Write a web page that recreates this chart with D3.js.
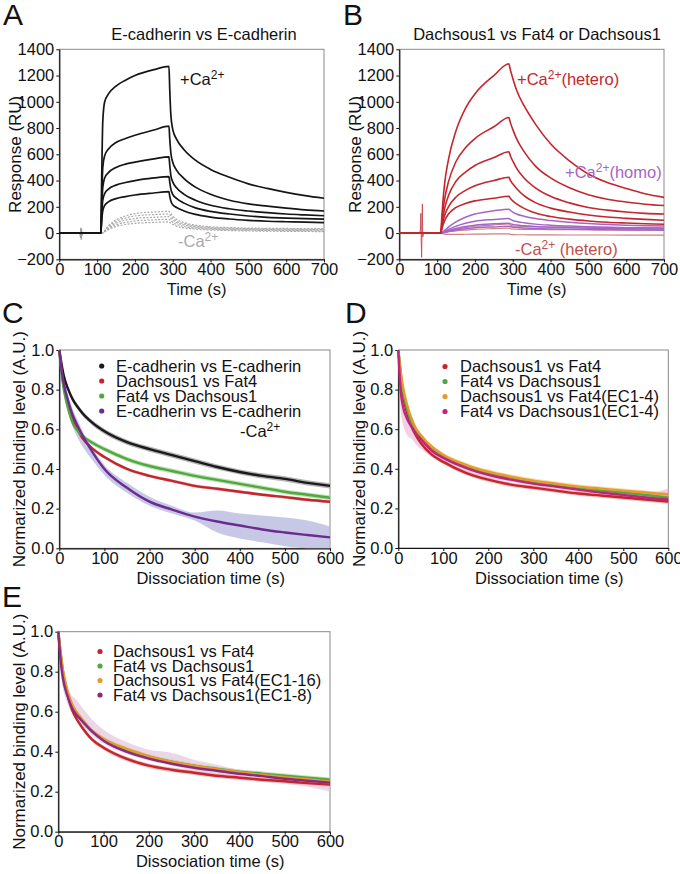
<!DOCTYPE html>
<html><head><meta charset="utf-8">
<script src="https://cdn.jsdelivr.net/npm/d3@7"></script>
<style>body{margin:0;background:#fff} text{font-family:"Liberation Sans",Arial,Helvetica,sans-serif}</style>
</head><body><svg id="c" width="680" height="874"></svg>
<script>
// ---------- DATA ----------
// SPR sensorgram time grid (s)
const sprTime = [0,110,112,115,120,130,150,175,200,250,290,292,295,300,310,330,360,400,450,500,550,600,650,700];
// Panel A: E-cadherin vs E-cadherin, +Ca2+ (RU)
const eCadPlusCa = [
  [0,0,400,850,1000,1060,1120,1165,1200,1245,1270,1100,900,790,715,635,555,485,425,375,340,310,285,265],
  [0,0,250,500,590,640,690,720,745,785,815,720,610,540,480,415,350,295,250,222,205,190,177,168],
  [0,0,180,350,420,460,500,525,540,565,580,520,440,390,345,295,250,212,185,168,155,145,138,132],
  [0,0,130,250,300,335,365,385,400,420,430,390,335,295,265,228,192,165,145,130,120,114,110,106],
  [0,0,90,170,210,238,262,278,290,305,315,282,245,215,195,168,142,122,107,97,90,86,83,80]
];
// Panel A: -Ca2+
const eCadMinusCa = [
  [0,0,0,3,20,55,100,130,148,160,165,160,148,130,105,80,60,48,42,38,36,35,34,33],
  [0,0,0,3,17,48,88,115,130,141,145,141,130,114,92,70,53,42,36,33,31,30,29,28],
  [0,0,0,2,14,40,75,98,111,120,125,121,112,98,80,61,46,36,31,28,26,25,24,23],
  [0,0,0,2,11,33,62,81,92,100,105,101,93,82,66,50,38,30,25,22,20,19,18,17],
  [0,0,0,1,9,26,50,65,74,81,85,82,75,66,53,40,30,23,19,16,14,13,12,11]
];
const spikeA = [[54,0],[56,-35],[57,40],[58,-50],[59,30],[60,-20],[62,0]];
// Panel B: Dachsous1 vs Fat4 (+Ca2+, hetero)
const dchsFatPlusCa = [
  [0,0,100,230,380,560,780,950,1060,1200,1290,1265,1230,1180,1090,970,830,680,550,450,385,340,300,272],
  [0,0,70,160,260,390,545,650,720,810,880,860,830,790,720,620,510,420,345,292,258,237,220,210],
  [0,0,50,115,190,285,395,465,515,575,620,605,580,550,495,420,345,280,230,195,175,160,150,145],
  [0,0,35,80,135,200,275,325,360,400,425,413,395,375,340,285,232,190,160,137,122,112,104,98],
  [0,0,25,55,95,145,195,225,245,265,280,272,260,245,222,188,152,126,106,92,82,76,71,67]
];
// Panel B: Dachsous1 vs Dachsous1 (+Ca2+, homo)
const dchsHomo = [
  [0,0,3,8,20,45,85,120,145,170,182,178,170,160,145,128,110,95,82,72,65,60,56,53],
  [0,0,2,5,12,28,52,75,90,103,110,107,102,96,88,78,68,60,53,48,44,41,39,37],
  [0,0,1,3,8,18,35,50,60,70,75,73,70,66,61,55,49,44,40,37,35,33,32,31],
  [0,0,1,2,5,12,23,33,40,47,52,50,48,45,42,38,34,31,29,27,25,24,23,22]
];
// Panel B: -Ca2+ (hetero)
const dchsFatMinusCa = [
  [0,0,2,5,10,18,30,42,52,62,70,66,60,55,52,50,48,46,45,44,43,42,41,40],
  [0,0,1,3,6,10,17,23,28,34,38,36,33,31,29,28,27,26,25,25,24,24,23,23],
  [0,0,-3,-5,-8,-10,-10,-9,-8,-7,-6,-8,-10,-12,-13,-13,-14,-14,-15,-15,-15,-16,-16,-16]
];
const spikeB = [[54,0],[56,30],[57,150],[58,-60],[59,-185],[60,20],[61,220],[62,-30],[64,0]];
const sprXTicks = [0,100,200,300,400,500,600,700];
const sprYTicks = [-200,0,200,400,600,800,1000,1200,1400];

// Dissociation time grid (s)
const dissTime = [0,5,10,20,30,40,50,75,100,150,200,250,300,350,400,450,500,550,600];
// Panel C
const cEcad   = [1,0.93,0.87,0.8,0.75,0.715,0.685,0.63,0.59,0.535,0.5,0.47,0.44,0.41,0.385,0.365,0.35,0.33,0.315];
const cEcadErr= [0,0.01,0.012,0.013,0.013,0.013,0.013,0.013,0.013,0.013,0.013,0.013,0.013,0.013,0.013,0.013,0.013,0.013,0.013];
const cDchsFat= [1,0.9,0.82,0.72,0.65,0.6,0.56,0.5,0.46,0.4,0.365,0.34,0.315,0.3,0.285,0.27,0.258,0.245,0.235];
const cDchsFatErr=[0,0.008,0.008,0.008,0.008,0.008,0.008,0.008,0.008,0.008,0.008,0.008,0.008,0.008,0.008,0.008,0.008,0.008,0.008];
const cFatDchs= [1,0.88,0.8,0.7,0.63,0.595,0.57,0.53,0.5,0.45,0.415,0.39,0.365,0.345,0.325,0.305,0.285,0.27,0.255];
const cFatDchsErr=[0,0.012,0.012,0.012,0.012,0.012,0.012,0.012,0.012,0.012,0.012,0.012,0.012,0.012,0.012,0.012,0.012,0.012,0.012];
const cEcadNoCa=[1,0.9,0.83,0.74,0.67,0.62,0.575,0.48,0.4,0.305,0.235,0.195,0.16,0.135,0.115,0.095,0.08,0.067,0.055];
const cEcadNoCaLo=[1,0.86,0.78,0.68,0.61,0.56,0.52,0.44,0.37,0.28,0.215,0.175,0.14,0.08,0.05,0.03,0.01,0,0];
const cEcadNoCaHi=[1,0.92,0.85,0.77,0.7,0.65,0.6,0.5,0.42,0.33,0.26,0.215,0.18,0.19,0.175,0.165,0.155,0.14,0.11];
// Panel D
const dDchsFat = [1,0.88,0.78,0.68,0.61,0.565,0.53,0.47,0.435,0.38,0.345,0.32,0.305,0.29,0.275,0.265,0.255,0.245,0.235];
const dFatDchs = [1,0.89,0.8,0.7,0.63,0.59,0.56,0.5,0.46,0.41,0.375,0.35,0.33,0.315,0.3,0.29,0.28,0.268,0.255];
const dDchsFatEC14 = [1,0.9,0.82,0.72,0.65,0.6,0.57,0.51,0.47,0.42,0.385,0.36,0.34,0.325,0.31,0.3,0.29,0.28,0.27];
const dFatDchsEC14 = [1,0.8,0.72,0.65,0.61,0.575,0.55,0.49,0.455,0.405,0.37,0.345,0.325,0.31,0.295,0.28,0.268,0.255,0.245];
const dFatDchsEC14Lo=[1,0.7,0.63,0.57,0.55,0.52,0.5,0.46,0.43,0.39,0.355,0.335,0.315,0.3,0.285,0.27,0.255,0.24,0.23];
const dFatDchsEC14Hi=[1,0.86,0.78,0.7,0.65,0.61,0.58,0.51,0.47,0.415,0.385,0.355,0.335,0.32,0.305,0.295,0.285,0.275,0.3];
// Panel E
const eDchsFat = [1,0.88,0.79,0.69,0.61,0.565,0.53,0.46,0.42,0.365,0.33,0.31,0.295,0.28,0.27,0.26,0.252,0.243,0.235];
const eFatDchs = [1,0.9,0.81,0.7,0.63,0.59,0.56,0.5,0.46,0.41,0.375,0.35,0.33,0.315,0.3,0.29,0.28,0.27,0.26];
const eDchsFatEC116 = [1,0.9,0.81,0.71,0.64,0.6,0.57,0.505,0.465,0.415,0.378,0.35,0.33,0.312,0.297,0.285,0.273,0.262,0.25];
const eFatDchsEC18 = [1,0.86,0.77,0.68,0.62,0.585,0.56,0.5,0.455,0.4,0.365,0.34,0.32,0.305,0.29,0.278,0.265,0.255,0.245];
const eFatDchsEC18Lo=[1,0.8,0.72,0.64,0.6,0.57,0.54,0.48,0.44,0.39,0.355,0.33,0.305,0.29,0.27,0.255,0.24,0.225,0.2];
const eFatDchsEC18Hi=[1,0.9,0.82,0.72,0.68,0.66,0.63,0.56,0.51,0.45,0.41,0.395,0.36,0.335,0.31,0.3,0.285,0.27,0.27];
const dissXTicks = [0,100,200,300,400,500,600];
const dissYTicks = [0,0.2,0.4,0.6,0.8,1.0];

const legendC = ["E-cadherin vs E-cadherin","Dachsous1 vs Fat4","Fat4 vs Dachsous1","E-cadherin vs E-cadherin"];
const legendD = ["Dachsous1 vs Fat4","Fat4 vs Dachsous1","Dachsous1 vs Fat4(EC1-4)","Fat4 vs Dachsous1(EC1-4)"];
const legendE = ["Dachsous1 vs Fat4","Fat4 vs Dachsous1","Dachsous1 vs Fat4(EC1-16)","Fat4 vs Dachsous1(EC1-8)"];

// ---------- DRAW ----------
const svg = d3.select("#c");
const FS = 16.5;
const RED = "#c4262e", GREEN = "#52a742", ORANGE = "#e59a2c", MAGENTA = "#c2247c",
      PURPLE_C = "#6c2b8f", PURPLE_E = "#8e2a7e", HOMO = "#a366c6", NOCA_B = "#d07f7f";

function panelAxes(x, y, xt, yt, fmt, xTitle, yTitle, yLabelX, xTitleShift) {
  const [xa, xb] = x.range(), [yb, ya] = y.range();
  svg.append("rect").attr("x", xa).attr("y", ya).attr("width", xb - xa).attr("height", yb - ya)
    .attr("fill", "none").attr("stroke", "#8a8a8a").attr("stroke-width", 1);
  const gx = svg.append("g").attr("transform", `translate(0,${yb})`)
    .call(d3.axisBottom(x).tickValues(xt).tickSize(3).tickSizeOuter(0).tickPadding(1));
  const gy = svg.append("g").attr("transform", `translate(${xa},0)`)
    .call(d3.axisLeft(y).tickValues(yt).tickSize(3).tickSizeOuter(0).tickPadding(2).tickFormat(fmt));
  [gx, gy].forEach(g => {
    g.selectAll("path").attr("stroke", "#111").attr("stroke-width", 1.2);
    g.selectAll("line").attr("stroke", "#111");
    g.selectAll("text").attr("font-size", FS).attr("fill", "#111")
      .attr("font-family", '"Liberation Sans",Arial,sans-serif');
  });
  svg.append("text").attr("x", (xa + xb) / 2 + xTitleShift).attr("y", yb + 35.5)
    .attr("text-anchor", "middle").attr("font-size", FS).attr("fill", "#111").text(xTitle);
  svg.append("text").attr("transform", `translate(${yLabelX},${(ya + yb) / 2}) rotate(-90)`)
    .attr("text-anchor", "middle").attr("font-size", 17).attr("fill", "#111").text(yTitle);
}
function letter(t, x, y) {
  svg.append("text").attr("x", x).attr("y", y).attr("font-size", 30).attr("fill", "#111").text(t);
}
function caLabel(x, y, sign, suffix, color) {
  const t = svg.append("text").attr("x", x).attr("y", y).attr("font-size", FS).attr("fill", color);
  t.append("tspan").text(sign + "Ca");
  t.append("tspan").attr("font-size", 12).attr("dy", -6).text("2+");
  if (suffix) t.append("tspan").attr("dy", 6).text(suffix);
}
function sprLine(x, y) {
  return d3.line().x(d => x(d[0])).y(d => y(d[1])).curve(d3.curveMonotoneX);
}
function drawSpr(x, y, sets, color, width, dash) {
  const ln = sprLine(x, y);
  sets.forEach(vals => {
    svg.append("path").datum(sprTime.map((t, i) => [t, vals[i]]))
      .attr("d", ln).attr("fill", "none").attr("stroke", color)
      .attr("stroke-width", width).attr("stroke-dasharray", dash || null);
  });
}
function drawSpike(x, y, pts, color) {
  svg.append("path").datum(pts).attr("d", d3.line().x(d => x(d[0])).y(d => y(d[1])))
    .attr("fill", "none").attr("stroke", color).attr("stroke-width", 1);
}

// Panel A
{
  const x = d3.scaleLinear().domain([0, 700]).range([59.3, 324]);
  const y = d3.scaleLinear().domain([-200, 1400]).range([259.3, 49.3]);
  panelAxes(x, y, sprXTicks, sprYTicks, d3.format("d"), "Time (s)", "Response (RU)", 21, 5);
  drawSpike(x, y, spikeA, "#999");
  drawSpr(x, y, eCadMinusCa, "#a9a9a9", 1.2, "2,1.5");
  drawSpr(x, y, eCadPlusCa, "#151515", 1.7);
  svg.append("text").attr("x", 204).attr("y", 40).attr("text-anchor", "middle")
    .attr("font-size", FS).attr("fill", "#111").text("E-cadherin vs E-cadherin");
  caLabel(180, 85, "+", "", "#111");
  caLabel(178, 247, "-", "", "#aaa");
  letter("A", 3, 25);
}
// Panel B
{
  const x = d3.scaleLinear().domain([0, 700]).range([399.3, 664]);
  const y = d3.scaleLinear().domain([-200, 1400]).range([259.3, 49.3]);
  panelAxes(x, y, sprXTicks, sprYTicks, d3.format("d"), "Time (s)", "Response (RU)", 361, 5);
  drawSpike(x, y, spikeB, "#c8505a");
  drawSpr(x, y, dchsFatMinusCa, NOCA_B, 1.2);
  drawSpr(x, y, dchsHomo, HOMO, 1.5);
  drawSpr(x, y, dchsFatPlusCa, RED, 1.6);
  svg.append("text").attr("x", 537).attr("y", 40).attr("text-anchor", "middle")
    .attr("font-size", FS).attr("fill", "#111").text("Dachsous1 vs Fat4 or Dachsous1");
  caLabel(517, 85, "+", "(hetero)", RED);
  caLabel(565, 178, "+", "(homo)", HOMO);
  caLabel(515, 255, "-", " (hetero)", "#c0504a");
  letter("B", 343, 25);
}

function dissPanel(xr, yr, series, legend, legendPos, yLabelX) {
  const x = d3.scaleLinear().domain([0, 600]).range(xr);
  const y = d3.scaleLinear().domain([0, 1]).range(yr);
  panelAxes(x, y, dissXTicks, dissYTicks, d3.format(".1f"), "Dissociation time (s)",
    "Normarized binding level (A.U.)", yLabelX, 16);
  const area = d3.area().x(d => x(d.t)).y0(d => y(d.lo)).y1(d => y(d.hi)).curve(d3.curveMonotoneX);
  const line = d3.line().x(d => x(d.t)).y(d => y(d.v)).curve(d3.curveMonotoneX);
  series.forEach(s => {
    const pts = dissTime.map((t, i) => ({t, v: s.v[i],
      lo: s.lo ? s.lo[i] : s.v[i] - s.err[i], hi: s.hi ? s.hi[i] : s.v[i] + s.err[i]}));
    svg.append("path").datum(pts).attr("d", area).attr("fill", s.band).attr("opacity", s.bandOp || 0.75);
  });
  series.forEach(s => {
    const pts = dissTime.map((t, i) => ({t, v: s.v[i]}));
    svg.append("path").datum(pts).attr("d", line).attr("fill", "none")
      .attr("stroke", s.color).attr("stroke-width", 2.4);
  });
  legend.forEach((name, i) => {
    const yy = legendPos.y + i * legendPos.dy;
    svg.append("circle").attr("cx", legendPos.dot).attr("cy", yy - 5.5).attr("r", 2.6)
      .attr("fill", series[i].color);
    svg.append("text").attr("x", legendPos.text).attr("y", yy).attr("font-size", FS)
      .attr("fill", "#111").text(name);
  });
}
const err0 = dissTime.map(() => 0.011);
// Panel C
dissPanel([59.3, 330], [548.3, 350], [
  {v: cEcad, err: cEcadErr, color: "#1a1a1a", band: "#9a9a9a"},
  {v: cDchsFat, err: cDchsFatErr, color: RED, band: "#e7a3a3"},
  {v: cFatDchs, err: cFatDchsErr, color: GREEN, band: "#a9d89c"},
  {v: cEcadNoCa, lo: cEcadNoCaLo, hi: cEcadNoCaHi, color: PURPLE_C, band: "#b3b5de"}
], legendC, {dot: 101.7, text: 116, y: 371.5, dy: 15}, 25);
caLabel(240, 437, "-", "", "#111");
letter("C", 2, 323);
// Panel D
dissPanel([398.3, 668.3], [548, 350], [
  {v: dDchsFat, err: err0, color: RED, band: "#e9a8a8"},
  {v: dFatDchs, err: err0, color: GREEN, band: "#b0dba5"},
  {v: dDchsFatEC14, err: err0, color: ORANGE, band: "#f3cf95"},
  {v: dFatDchsEC14, lo: dFatDchsEC14Lo, hi: dFatDchsEC14Hi, color: MAGENTA, band: "#eab3d3", bandOp: 0.6}
], legendD, {dot: 445, text: 460, y: 372, dy: 15}, 365);
letter("D", 345, 323);
// Panel E
dissPanel([58.3, 330], [831.7, 631.7], [
  {v: eDchsFat, err: err0, color: RED, band: "#e9a8a8"},
  {v: eFatDchs, err: err0, color: GREEN, band: "#b0dba5"},
  {v: eDchsFatEC116, err: err0, color: ORANGE, band: "#f3cf95"},
  {v: eFatDchsEC18, lo: eFatDchsEC18Lo, hi: eFatDchsEC18Hi, color: PURPLE_E, band: "#dcbedb", bandOp: 0.6}
], legendE, {dot: 100, text: 113, y: 657, dy: 14.5}, 25);
letter("E", 2, 607);
</script></body></html>
